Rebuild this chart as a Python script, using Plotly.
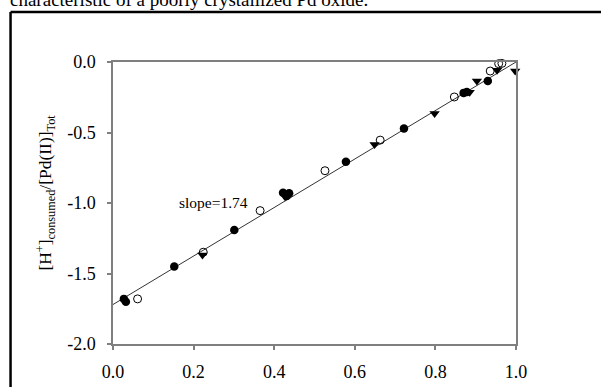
import plotly.graph_objects as go

# ---- data ----
filled_x = [0.027, 0.032, 0.152, 0.301, 0.422, 0.437, 0.431, 0.578, 0.722, 0.870, 0.878, 0.930]
filled_y = [-1.68, -1.70, -1.451, -1.191, -0.927, -0.931, -0.95, -0.708, -0.472, -0.219, -0.212, -0.134]

open_x = [0.061, 0.224, 0.365, 0.526, 0.663, 0.847, 0.936, 0.957, 0.965]
open_y = [-1.68, -1.349, -1.054, -0.771, -0.554, -0.248, -0.064, -0.012, -0.010]

tri_x = [0.222, 0.427, 0.649, 0.798, 0.885, 0.903, 0.953, 0.998]
tri_y = [-1.368, -0.955, -0.585, -0.365, -0.215, -0.134, -0.059, -0.064]

fit_x = [0.0, 1.0]
fit_y = [-1.72, 0.0]

x_ticks = [0.0, 0.2, 0.4, 0.6, 0.8, 1.0]
x_ticklabels = ["0.0", "0.2", "0.4", "0.6", "0.8", "1.0"]
y_ticks = [0.0, -0.5, -1.0, -1.5, -2.0]
y_ticklabels = ["0.0", "-0.5", "-1.0", "-1.5", "-2.0"]

slope_label = "slope=1.74"
y_title = "[H<sup>+</sup>]<sub>consumed</sub>/[Pd(II)]<sub>Tot</sub>"
caption = "characteristic of a poorly crystallized Pd oxide."

# ---- layout geometry ----
W, H = 601, 387
L, R, T, B = 113.3, 515.7, 61.7, 344.3
PW, PH = R - L, B - T

def px2paper_x(px):
    return (px - L) / PW

def px2paper_y(py):
    return (B - py) / PH

FONT = "Liberation Serif, Times New Roman, serif"
AX = "#7f7f7f"

fig = go.Figure()
fig.add_trace(go.Scatter(x=fit_x, y=fit_y, mode="lines",
                         line=dict(color="#333333", width=1), hoverinfo="skip",
                         showlegend=False, cliponaxis=False))
fig.add_trace(go.Scatter(x=filled_x, y=filled_y, mode="markers",
                         marker=dict(symbol="circle", size=8.5, color="black"),
                         showlegend=False, cliponaxis=False))
fig.add_trace(go.Scatter(x=open_x, y=open_y, mode="markers",
                         marker=dict(symbol="circle-open", size=8, color="black",
                                     line=dict(width=1)),
                         showlegend=False, cliponaxis=False))
fig.add_trace(go.Scatter(x=tri_x, y=tri_y, mode="markers",
                         marker=dict(symbol="triangle-down", size=9, color="black"),
                         showlegend=False, cliponaxis=False))

border = dict(color="black", width=2.5)
fig.update_layout(
    width=W, height=H,
    margin=dict(l=L, r=W - R, t=T, b=H - B, pad=0),
    paper_bgcolor="white", plot_bgcolor="white",
    font=dict(family=FONT, size=18, color="black"),
    xaxis=dict(range=[0, 1], tickvals=x_ticks, ticktext=x_ticklabels,
               showgrid=False, zeroline=False, showline=True, linecolor=AX,
               linewidth=1.5, mirror=True, ticks="outside", ticklen=4,
               tickcolor=AX, tickwidth=1.5, tickfont=dict(size=18),
               ticklabelstandoff=7, automargin=False),
    yaxis=dict(range=[-2, 0], tickvals=y_ticks, ticktext=y_ticklabels,
               showgrid=False, zeroline=False, showline=True, linecolor=AX,
               linewidth=1.5, mirror=True, ticks="outside", ticklen=4,
               tickcolor=AX, tickwidth=1.5, tickfont=dict(size=18),
               ticklabelstandoff=8, automargin=False),
    shapes=[
        dict(type="line", xref="paper", yref="paper",
             x0=px2paper_x(11), x1=px2paper_x(610),
             y0=px2paper_y(11.5), y1=px2paper_y(11.5), line=border, layer="below"),
        dict(type="line", xref="paper", yref="paper",
             x0=px2paper_x(11), x1=px2paper_x(11),
             y0=px2paper_y(11.5), y1=px2paper_y(400), line=border, layer="below"),
    ],
    annotations=[
        dict(text=slope_label, x=px2paper_x(177), y=px2paper_y(202),
             xref="paper", yref="paper", xanchor="left", yanchor="middle",
             showarrow=False, font=dict(size=15.5)),
        dict(text=y_title, x=px2paper_x(45), y=px2paper_y(193),
             xref="paper", yref="paper", xanchor="center", yanchor="middle",
             textangle=-90, showarrow=False, font=dict(size=17.5)),
        dict(text=caption, x=px2paper_x(8), y=px2paper_y(12),
             xref="paper", yref="paper", xanchor="left", yanchor="bottom",
             showarrow=False, font=dict(size=19)),
    ],
)

fig.write_html(
    "out.html",
    config={"displayModeBar": False},
    post_script="document.body.style.margin='0';document.body.style.overflow='hidden';",
)
